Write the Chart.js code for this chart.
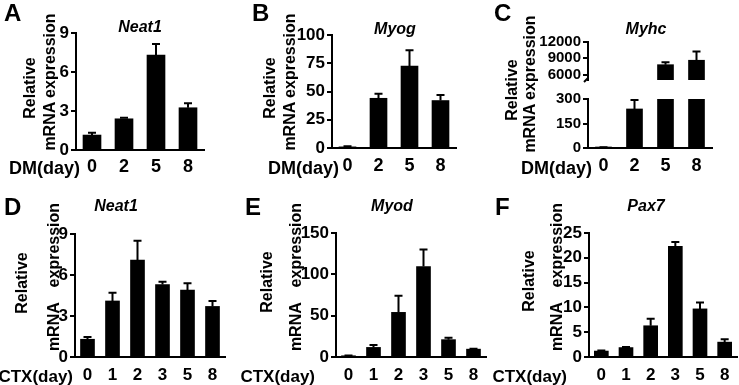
<!DOCTYPE html>
<html>
<head>
<meta charset="utf-8">
<script src="https://cdn.jsdelivr.net/npm/chart.js@4.4.1/dist/chart.umd.min.js"></script>
<style>
    body { margin: 0; width: 739px; height: 385px; background: #fff; position: relative; overflow: hidden;
           font-family: "Liberation Sans", Arial, sans-serif; font-weight: bold; color: #000; }
    canvas { position: absolute; }
    .t { position: absolute; white-space: pre; line-height: 1; }
</style>
</head>
<body>
<script>
// x categories
const dmDays = ['0', '2', '5', '8'];
const ctxDays = ['0', '1', '2', '3', '5', '8'];

// A - Neat1, DM
const neat1Dm = [1.15, 2.4, 7.3, 3.25];
const neat1DmSem = [0.18, 0.08, 0.85, 0.35];
const neat1DmTicks = [0, 3, 6, 9];

// B - Myog, DM
const myogDm = [1, 44, 72.6, 42];
const myogDmSem = [0.5, 4, 14, 5];
const myogDmTicks = [0, 25, 50, 75, 100];

// C - Myhc, DM (broken axis)
const myhcDm = [3, 239, 7820, 8640];
const myhcDmSem = [1, 55, 430, 1590];
const myhcTopTicks = [6000, 9000, 12000];
const myhcLowTicks = [0, 150, 300];

// D - Neat1, CTX
const neat1Ctx = [1.3, 4.1, 7.1, 5.3, 4.9, 3.7];
const neat1CtxSem = [0.16, 0.6, 1.4, 0.2, 0.5, 0.4];
const neat1CtxTicks = [0, 3, 6, 9];

// E - Myod, CTX
const myodCtx = [1.5, 11.6, 54, 109.5, 21, 9.5];
const myodCtxSem = [0.3, 2.9, 20, 20.5, 2.4, 0.4];
const myodCtxTicks = [0, 50, 100, 150];

// F - Pax7, CTX
const pax7Ctx = [1.2, 1.9, 6.3, 22.3, 9.7, 3.0];
const pax7CtxSem = [0.1, 0.1, 1.4, 0.9, 1.3, 0.6];
const pax7CtxTicks = [0, 5, 10, 15, 20, 25];

const FONT = '"Liberation Sans", Arial, sans-serif';
Chart.defaults.font.family = FONT;
Chart.defaults.color = '#000';

// error bars (mean + sem, upward only)
const errorBars = {
    id: 'errorBars',
    afterDatasetsDraw(chart) {
        const ctx = chart.ctx, a = chart.chartArea;
        const ds = chart.data.datasets[0];
        const meta = chart.getDatasetMeta(0);
        const y = chart.scales.y;
        ctx.save();
        ctx.beginPath();
        ctx.rect(a.left - 10, a.top - 1, a.right - a.left + 20, a.bottom - a.top + 1);
        ctx.clip();
        ctx.strokeStyle = '#000';
        ctx.lineWidth = 2;
        meta.data.forEach(function (bar, i) {
            const top = ds.data[i] + ds.sem[i];
            if (top < y.min) return;
            const yt = y.getPixelForValue(top);
            ctx.beginPath();
            ctx.moveTo(bar.x, bar.y);
            ctx.lineTo(bar.x, yt);
            ctx.moveTo(bar.x - 4, yt);
            ctx.lineTo(bar.x + 4, yt);
            ctx.stroke();
        });
        ctx.restore();
    }
};

// little break mark under the upper segment of C
const breakMark = {
    id: 'breakMark',
    afterDraw(chart) {
        const ctx = chart.ctx, a = chart.chartArea;
        ctx.save();
        ctx.strokeStyle = '#000';
        ctx.lineWidth = 2;
        ctx.beginPath();
        ctx.moveTo(a.left, a.bottom - 2);
        ctx.lineTo(a.left - 4, a.bottom + 2);
        ctx.stroke();
        ctx.restore();
    }
};

/**
 * one bar chart panel
 * box  : canvas [left, top, width, height] on the page
 * plot : plot area [x0, y0, x1, y1] on the page
 */
function panel(o) {
    const [bx, by, bw, bh] = o.box;
    const [x0, y0, x1, y1] = o.plot;
    const cv = document.createElement('canvas');
    cv.width = bw;
    cv.height = bh;
    cv.style.left = bx + 'px';
    cv.style.top = by + 'px';
    document.body.appendChild(cv);
    return new Chart(cv, {
        type: 'bar',
        data: {
            labels: o.labels,
            datasets: [{
                data: o.values,
                sem: o.sem,
                backgroundColor: '#000',
                borderWidth: 0,
                barThickness: o.barW,
                clip: 0
            }]
        },
        options: {
            responsive: false,
            animation: false,
            devicePixelRatio: 1,
            layout: {padding: {left: 0, top: y0 - by, right: bx + bw - x1, bottom: o.hideX ? by + bh - y1 : 0}},
            plugins: {legend: {display: false}, tooltip: {enabled: false}},
            scales: {
                x: {
                    display: !o.hideX,
                    grid: {display: false, drawTicks: false},
                    border: {display: true, color: '#000', width: 2},
                    ticks: {color: '#000', padding: o.xPad, autoSkip: false, font: {size: o.xFont, weight: 'bold'}},
                    afterFit: function (s) { s.height = by + bh - y1; }
                },
                y: {
                    min: o.min,
                    max: o.max,
                    afterBuildTicks: function (s) { s.ticks = o.ticks.map(v => ({value: v})); },
                    afterFit: function (s) { s.width = x0 - bx; },
                    grid: {display: true, drawOnChartArea: false, drawTicks: true, tickLength: 5, color: '#000', lineWidth: 2},
                    border: {display: true, color: '#000', width: 2},
                    ticks: {color: '#000', padding: 2, autoSkip: false, font: {size: o.yFont, weight: 'bold'},
                        callback: function (v) { return String(v); }}
                }
            }
        },
        plugins: [errorBars].concat(o.extra || [])
    });
}

function addText(str, x, y, size, align, extra) {
    extra = extra || {};
    const d = document.createElement('div');
    d.className = 't';
    d.textContent = str;
    d.style.fontSize = size + 'px';
    d.style.left = x + 'px';
    d.style.top = y + 'px';
    const tx = align === 'center' ? '-50%' : (align === 'right' ? '-100%' : '0');
    d.style.transform = 'translate(' + tx + ',-50%)' + (extra.rotate ? ' rotate(-90deg)' : '');
    if (extra.italic) d.style.fontStyle = 'italic';
    if (extra.ws) d.style.wordSpacing = extra.ws + 'px';
    document.body.appendChild(d);
}

// ---------- top row: DM ----------
panel({box: [0, 0, 246, 192], plot: [76, 33, 204, 150], labels: dmDays, values: neat1Dm, sem: neat1DmSem,
    min: 0, max: 9, ticks: neat1DmTicks, barW: 18, xFont: 18, yFont: 17, xPad: 6});
panel({box: [246, 0, 244, 192], plot: [332, 35, 456, 148], labels: dmDays, values: myogDm, sem: myogDmSem,
    min: 0, max: 100, ticks: myogDmTicks, barW: 17, xFont: 18, yFont: 17, xPad: 7});
panel({box: [490, 0, 249, 100], plot: [588, 42, 712, 90], labels: dmDays, values: myhcDm, sem: myhcDmSem,
    min: 5000, max: 12000, ticks: myhcTopTicks, barW: 16, xFont: 18, yFont: 15, xPad: 7, hideX: true, extra: [breakMark]});
panel({box: [490, 86, 249, 106], plot: [588, 99, 712, 148], labels: dmDays, values: myhcDm, sem: myhcDmSem,
    min: 0, max: 300, ticks: myhcLowTicks, barW: 16, xFont: 18, yFont: 15, xPad: 7});

// ---------- bottom row: CTX ----------
panel({box: [0, 192, 246, 193], plot: [75, 234, 225, 357], labels: ctxDays, values: neat1Ctx, sem: neat1CtxSem,
    min: 0, max: 9, ticks: neat1CtxTicks, barW: 14, xFont: 17, yFont: 17, xPad: 8});
panel({box: [246, 192, 244, 193], plot: [336, 233, 486, 357], labels: ctxDays, values: myodCtx, sem: myodCtxSem,
    min: 0, max: 150, ticks: myodCtxTicks, barW: 14, xFont: 17, yFont: 17, xPad: 8});
panel({box: [490, 192, 249, 193], plot: [589, 233, 737, 357], labels: ctxDays, values: pax7Ctx, sem: pax7CtxSem,
    min: 0, max: 25, ticks: pax7CtxTicks, barW: 14, xFont: 17, yFont: 17, xPad: 8});

// panel letters
addText('A', 4, 13, 24, 'left');
addText('B', 252, 13, 24, 'left');
addText('C', 494, 13, 24, 'left');
addText('D', 4, 207, 24, 'left');
addText('E', 245, 207, 24, 'left');
addText('F', 495, 207, 24, 'left');

// gene names
addText('Neat1', 140, 27, 16, 'center', {italic: true});
addText('Myog', 395, 29, 16, 'center', {italic: true});
addText('Myhc', 646, 29, 16, 'center', {italic: true});
addText('Neat1', 116, 206, 16, 'center', {italic: true});
addText('Myod', 392, 206, 16, 'center', {italic: true});
addText('Pax7', 646, 206, 16, 'center', {italic: true});

// x axis names
addText('DM(day)', 80, 168, 18, 'right');
addText('DM(day)', 339, 168, 18, 'right');
addText('DM(day)', 592, 168, 18, 'right');
addText('CTX(day)', 73, 376, 17, 'right');
addText('CTX(day)', 315, 376, 17, 'right');
addText('CTX(day)', 567, 376, 17, 'right');

// y axis names
addText('Relative', 30, 88, 16, 'center', {rotate: true});
addText('mRNA expression', 50, 82, 16, 'center', {rotate: true});
addText('Relative', 270, 88, 16, 'center', {rotate: true});
addText('mRNA expression', 290, 82, 16, 'center', {rotate: true});
addText('Relative', 512, 90, 16, 'center', {rotate: true});
addText('mRNA expression', 530, 84, 16, 'center', {rotate: true});
addText('Relative', 22, 283, 16, 'center', {rotate: true});
addText('mRNA expression', 54, 277, 16, 'center', {rotate: true, ws: 11});
addText('Relative', 267, 282, 16, 'center', {rotate: true});
addText('mRNA expression', 296, 277, 16, 'center', {rotate: true, ws: 11});
addText('Relative', 529, 281, 16, 'center', {rotate: true});
addText('mRNA expression', 557, 277, 16, 'center', {rotate: true, ws: 11});
</script>
</body>
</html>
